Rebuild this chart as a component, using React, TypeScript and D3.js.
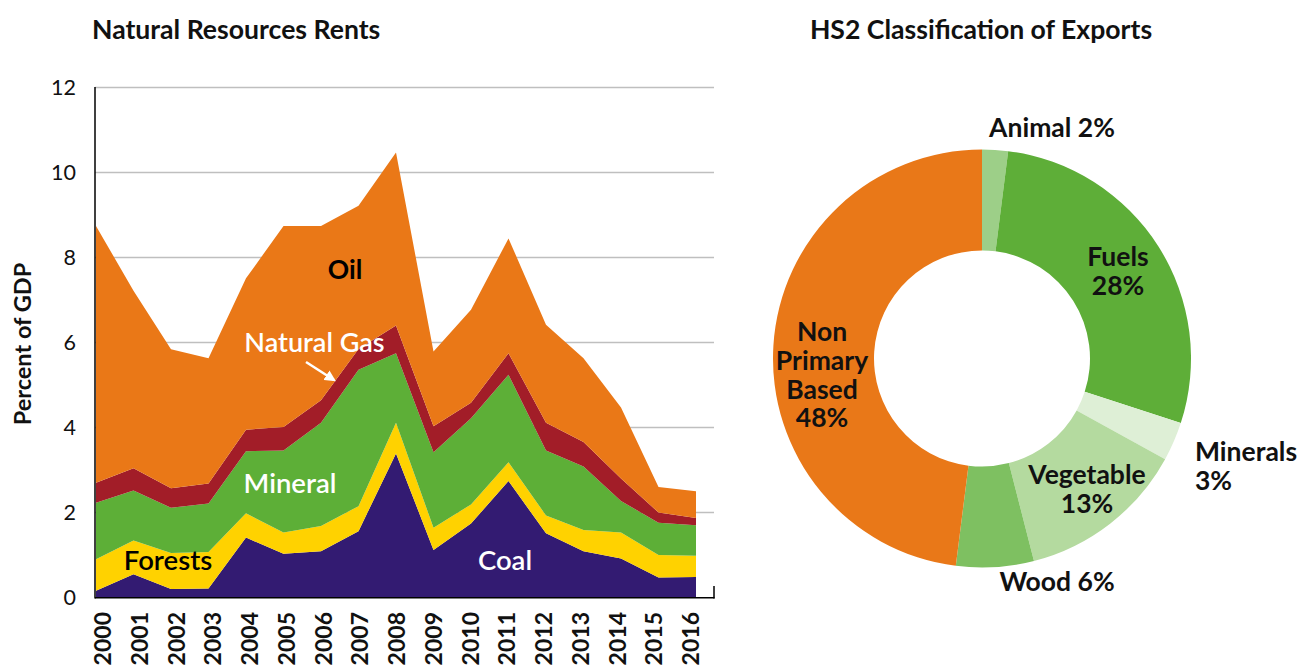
import React from "react";
import * as d3 from "d3";

const years = [2000, 2001, 2002, 2003, 2004, 2005, 2006, 2007, 2008, 2009, 2010, 2011, 2012, 2013, 2014, 2015, 2016];
const coal = [0.16, 0.55, 0.2, 0.21, 1.41, 1.03, 1.09, 1.56, 3.39, 1.12, 1.74, 2.74, 1.51, 1.09, 0.92, 0.47, 0.48];
const forests = [0.74, 0.79, 0.85, 0.86, 0.57, 0.5, 0.59, 0.59, 0.72, 0.52, 0.45, 0.44, 0.42, 0.5, 0.61, 0.53, 0.5];
const mineral = [1.33, 1.18, 1.06, 1.14, 1.46, 1.93, 2.43, 3.21, 1.64, 1.78, 2.03, 2.06, 1.53, 1.49, 0.74, 0.76, 0.72];
const naturalGas = [0.47, 0.52, 0.46, 0.47, 0.51, 0.55, 0.53, 0.49, 0.65, 0.61, 0.36, 0.51, 0.65, 0.58, 0.53, 0.24, 0.17];
const oil = [6.04, 4.18, 3.27, 2.95, 3.56, 4.73, 4.1, 3.37, 4.07, 1.76, 2.19, 2.7, 2.31, 1.97, 1.67, 0.6, 0.63];
const yTicks = [0, 2, 4, 6, 8, 10, 12];

const seriesKeys = ["Coal", "Forests", "Mineral", "Natural Gas", "Oil"];
const seriesColors = ["#331B72", "#FFD200", "#5DAF37", "#A21D28", "#EA7817"];

const donutLabels = ["Animal", "Fuels", "Minerals", "Vegetable", "Wood", "Non Primary Based"];
const donutValues = [2, 28, 3, 13, 6, 48];
const donutColors = ["#9DCF88", "#5EAE38", "#DEEFD6", "#B4DA9F", "#7EC061", "#E97818"];

const FONT = "Lato, 'Open Sans', sans-serif";

export default function App() {
  const x = d3.scaleLinear().domain([2000, 2016]).range([96, 696]);
  const xLabel = d3.scaleLinear().domain([2000, 2016]).range([103, 691]);
  const y = d3.scaleLinear().domain([0, 12]).range([597.5, 87.5]);

  const rows = years.map((yr, i) => ({
    year: yr,
    Coal: coal[i],
    Forests: forests[i],
    Mineral: mineral[i],
    "Natural Gas": naturalGas[i],
    Oil: oil[i],
  }));
  const stacked = d3.stack<any>().keys(seriesKeys)(rows);
  const area = d3
    .area<any>()
    .x((d) => x(d.data.year))
    .y0((d) => y(d[0]))
    .y1((d) => y(d[1]));

  const cx = 982;
  const cy = 358.5;
  const pie = d3.pie<number>().sort(null).value((d) => d)(donutValues);
  const arc = d3.arc<any>().innerRadius(108).outerRadius(209);

  const bold = { fontFamily: FONT, fontWeight: 700 } as const;

  return (
    <svg width={1301} height={666} style={{ position: "absolute", left: 0, top: 0, background: "#fff" }}>
      <defs>
        <marker id="ah" viewBox="0 0 10 10" refX="8" refY="5" markerWidth="4.5" markerHeight="4.5" orient="auto">
          <path d="M0,0 L10,5 L0,10 z" fill="#fff" />
        </marker>
      </defs>
      {/* Left chart */}
      <text x={92} y={39} fontSize={26.6} style={bold} fill="#111">
        Natural Resources Rents
      </text>
      {yTicks.map((t) => (
        <g key={t}>
          {t > 0 && <line x1={95} x2={714} y1={y(t)} y2={y(t)} stroke="#BFBFBF" strokeWidth={1.5} />}
          <text x={76} y={y(t) + 7.5} textAnchor="end" fontSize={21.5} fontFamily={FONT} fill="#111">
            {t}
          </text>
        </g>
      ))}
      {stacked.map((s, i) => (
        <path key={s.key} d={area(s) || ""} fill={seriesColors[i]} />
      ))}
      <line x1={95} x2={95} y1={87} y2={598.5} stroke="#000" strokeWidth={1.5} />
      <line x1={95} x2={714.5} y1={597.8} y2={597.8} stroke="#000" strokeWidth={1.5} />
      <line x1={714} x2={714} y1={586} y2={598.5} stroke="#000" strokeWidth={1.5} />
      {years.map((yr) => (
        <text
          key={yr}
          transform={`translate(${xLabel(yr) + 8},612) rotate(-90)`}
          textAnchor="end"
          fontSize={23}
          style={bold}
          fill="#111"
        >
          {yr}
        </text>
      ))}
      <text transform="translate(31,344) rotate(-90)" textAnchor="middle" fontSize={23.5} style={bold} fill="#111">
        Percent of GDP
      </text>
      <text x={345} y={279} textAnchor="middle" fontSize={26.5} style={bold} fill="#000">
        Oil
      </text>
      <text x={314.5} y={352} textAnchor="middle" fontSize={27} fontFamily={FONT} fontWeight={600} fill="#fff">
        Natural Gas
      </text>
      <line x1={306} y1={362} x2={334} y2={380} stroke="#fff" strokeWidth={2.5} markerEnd="url(#ah)" />
      <text x={290} y={492.5} textAnchor="middle" fontSize={27.5} fontFamily={FONT} fontWeight={600} fill="#fff">
        Mineral
      </text>
      <text x={168} y={569.5} textAnchor="middle" fontSize={27.5} fontFamily={FONT} fontWeight={600} fill="#000">
        Forests
      </text>
      <text x={505} y={569.5} textAnchor="middle" fontSize={27.5} fontFamily={FONT} fontWeight={600} fill="#fff">
        Coal
      </text>

      {/* Right chart */}
      <text x={981} y={39} textAnchor="middle" fontSize={26.6} style={bold} fill="#111">
        HS2 Classification of Exports
      </text>
      <g transform={`translate(${cx},${cy})`}>
        {pie.map((p, i) => (
          <path key={donutLabels[i]} d={arc(p) || ""} fill={donutColors[i]} />
        ))}
      </g>
      <g style={bold} fontSize={26.5} fill="#111">
        <text x={1052} y={137.3} textAnchor="middle">
          {`${donutLabels[0]} ${donutValues[0]}%`}
        </text>
        <text x={1118} y={266.3} textAnchor="middle">
          {donutLabels[1]}
        </text>
        <text x={1118} y={295.3} textAnchor="middle">
          {`${donutValues[1]}%`}
        </text>
        <text x={1195} y={461.3}>{donutLabels[2]}</text>
        <text x={1195} y={490.3}>{`${donutValues[2]}%`}</text>
        <text x={1087} y={484} textAnchor="middle">
          {donutLabels[3]}
        </text>
        <text x={1087} y={513.3} textAnchor="middle">
          {`${donutValues[3]}%`}
        </text>
        <text x={1057} y={590.7} textAnchor="middle">
          {`${donutLabels[4]} ${donutValues[4]}%`}
        </text>
        {["Non", "Primary", "Based", `${donutValues[5]}%`].map((t, i) => (
          <text key={t} x={822} y={340.7 + i * 28.9} textAnchor="middle">
            {t}
          </text>
        ))}
      </g>
    </svg>
  );
}
